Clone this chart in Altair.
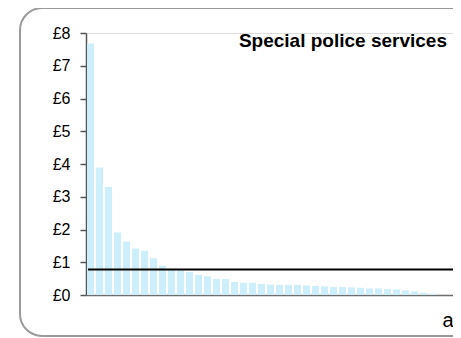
import altair as alt
import pandas as pd

# Values (GBP per item, sorted descending)
values = [7.68, 3.89, 3.30, 1.91, 1.63, 1.42, 1.35, 1.12, 0.89, 0.80,
          0.76, 0.70, 0.61, 0.57, 0.49, 0.49, 0.40, 0.37, 0.37, 0.34,
          0.32, 0.31, 0.31, 0.31, 0.29, 0.28, 0.26, 0.24, 0.24, 0.23,
          0.22, 0.20, 0.20, 0.18, 0.17, 0.14, 0.11, 0.07, 0.04]
reference_value = [0.78]
y_ticks = [0, 1, 2, 3, 4, 5, 6, 7, 8]
chart_title = ["Special police services"]
x_title = "a"

df = pd.DataFrame({"i": list(range(len(values))), "v": values})
ref = pd.DataFrame({"v": reference_value})
ttl = pd.DataFrame({"t": chart_title})

W = 367
H = 262
x_scale = alt.Scale(domain=[0, W / 9], nice=False, zero=False)
y_scale = alt.Scale(domain=[0, 8], nice=False)

y_axis = alt.Axis(title=None, values=y_ticks, grid=False,
                  labelExpr="'£' + datum.value",
                  labelFont="Liberation Sans", labelFontSize=16,
                  labelColor="#000000", labelPadding=10,
                  tickSize=6, tickColor="#555555", tickWidth=1.5,
                  domainColor="#555555", domainWidth=1.5)

border = alt.Chart(pd.DataFrame({"k": [0]})).mark_rect(
    fill="transparent", stroke="#9a9a9a", strokeWidth=2, cornerRadius=22
).encode(
    x=alt.value(-66), x2=alt.value(W + 40),
    y=alt.value(-25), y2=alt.value(H + 41),
)

bars = alt.Chart(df).transform_calculate(
    x0="datum.i + 1/9", x1="datum.i + 8/9"
).mark_rect(color="#cdeefb").encode(
    x=alt.X("x0:Q", scale=x_scale,
            axis=alt.Axis(title=x_title, labels=False, ticks=False, grid=False,
                          domainColor="#6e6e6e", domainWidth=1.5,
                          titleX=356, titleY=31, titleAlign="left",
                          titleBaseline="alphabetic", titleFontSize=20,
                          titleFontWeight="normal", titleFont="Liberation Sans",
                          titleColor="#000000")),
    x2="x1:Q",
    y=alt.Y("v:Q", scale=y_scale, axis=y_axis),
)

rule = alt.Chart(ref).mark_rule(color="#000000", strokeWidth=2).encode(
    y=alt.Y("v:Q", scale=y_scale, axis=y_axis),
    x=alt.value(2), x2=alt.value(W),
)

title = alt.Chart(ttl).mark_text(
    align="right", baseline="alphabetic", fontSize=19,
    font="Liberation Sans", fontWeight="bold", color="#000000"
).encode(text="t:N", x=alt.value(W - 6), y=alt.value(14))

chart = alt.layer(border, bars, rule, title).properties(
    width=W, height=H,
    autosize=alt.AutoSizeParams(type="none"),
    padding={"left": 78, "top": 25, "right": 0, "bottom": 43},
).configure_view(stroke=None).configure(background="white")

chart.save("out.html", embed_options={"renderer": "svg", "actions": False})
